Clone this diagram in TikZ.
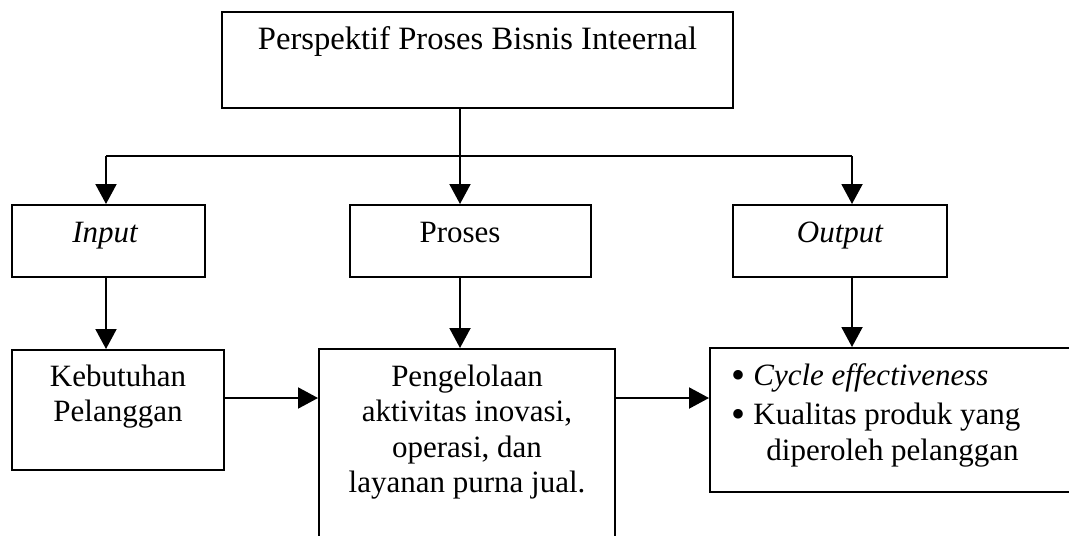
\documentclass[tikz,border=0pt]{standalone}
\usepackage{fontspec}
\setmainfont{Liberation Serif}
\usetikzlibrary{arrows.meta,fit}
\newcommand{\bigdot}{\smash{\fontsize{20}{20}\selectfont\raisebox{-1.6pt}{\textbullet}}}
\begin{document}
\begin{tikzpicture}[x=0.5pt,y=-0.5pt,
  box/.style={draw, line width=1pt, inner sep=0pt},
  lbl/.style={inner sep=0pt, anchor=base, font=\fontsize{15.5}{17.75}\selectfont},
  ln/.style={line width=1pt},
  arr/.style={line width=1pt, -{Triangle[length=10pt,width=10.5pt]}}]
\useasboundingbox (0,0) rectangle (1069,535);
\fill[white] (0,0) rectangle (1069,535);
\clip (0,0) rectangle (1069,535);

% boxes
\node[box, fit={(222,12) (733,108)}] (top) {};
\node[box, fit={(12,205) (205,277)}] (inp) {};
\node[box, fit={(350,205) (591,277)}] (pro) {};
\node[box, fit={(733,205) (947,277)}] (out) {};
\node[box, fit={(12,350) (224,470)}] (keb) {};
\node[box, fit={(319,349) (615,580)}] (pen) {};
\node[box, fit={(710,348) (1090,492)}] (bul) {};

% texts
\node[lbl, font=\fontsize{16.3}{18}\selectfont] (topt) at (477.5,50) {Perspektif Proses Bisnis Inteernal};
\node[lbl] (inpt) at (105,242) {\itshape Input};
\node[lbl] (prot) at (460,242) {Proses};
\node[lbl] (outt) at (840,242) {\itshape Output};
\node[lbl] (kebt) at (118,386) {\begin{tabular}[t]{@{}c@{}}Kebutuhan\\Pelanggan\end{tabular}};
\node[lbl] (pent) at (467,386) {\begin{tabular}[t]{@{}c@{}}Pengelolaan\\aktivitas inovasi,\\operasi, dan\\layanan purna jual.\end{tabular}};
\node[lbl, anchor=base west] (bult) at (731,385) {\begin{tabular}[t]{@{}l@{\hspace{4pt}}l@{}}\bigdot & \textit{Cycle effectiveness}\\[2pt]
\bigdot & Kualitas produk yang\\
 & \hspace{6.5pt}diperoleh pelanggan\end{tabular}};

% junction points
\coordinate (j) at (460,156);
\coordinate (jl) at (106,156);
\coordinate (jr) at (852,156);
\coordinate (h) at (0,398);

% connectors
\draw[ln] (top.south -| j) -- (j);
\draw[ln] (jl) -- (jr);
\draw[arr] (jl) -- (jl |- inp.north);
\draw[arr] (j) -- (j |- pro.north);
\draw[arr] (jr) -- (jr |- out.north);
\draw[arr] (jl |- inp.south) -- (jl |- keb.north);
\draw[arr] (j |- pro.south) -- (j |- pen.north);
\draw[arr] (jr |- out.south) -- (jr |- bul.north);
\draw[arr] (keb.east |- h) -- (pen.west |- h);
\draw[arr] (pen.east |- h) -- (bul.west |- h);
\end{tikzpicture}
\end{document}
